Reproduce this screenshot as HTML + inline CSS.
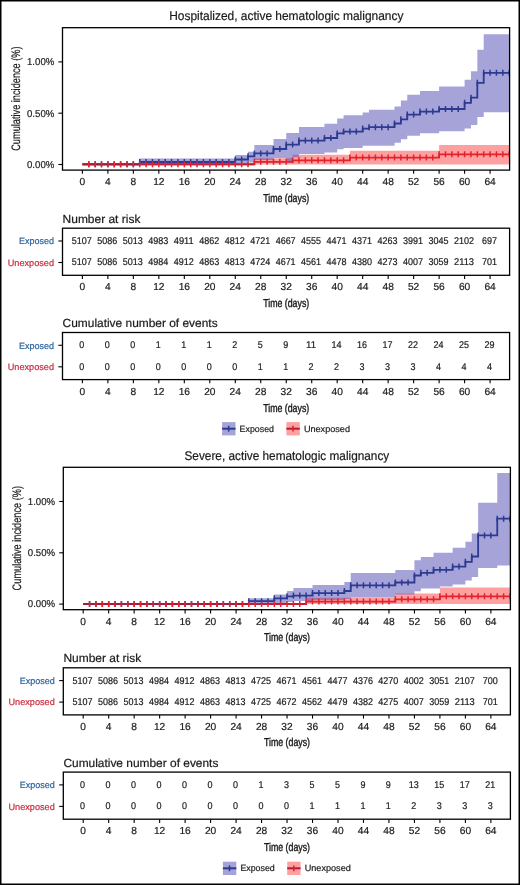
<!DOCTYPE html>
<html><head><meta charset="utf-8"><style>
html,body{margin:0;padding:0;background:#fff;}
body{width:520px;height:885px;overflow:hidden;}
svg{display:block;font-family:"Liberation Sans", sans-serif;will-change:transform;text-rendering:geometricPrecision;}
</style></head><body>
<svg width="520" height="885" viewBox="0 0 520 885">
<rect x="0" y="0" width="520" height="885" fill="#fff"/>
<g><text x="169.20" y="19.60" font-size="12.6" text-anchor="start" fill="#1a1a1a" stroke="#1a1a1a" stroke-width="0.2" textLength="234.2" lengthAdjust="spacingAndGlyphs">Hospitalized, active hematologic malignancy</text><text x="0" y="0" font-size="12.2" text-anchor="middle" fill="#1a1a1a" stroke="#1a1a1a" stroke-width="0.2" textLength="104.4" lengthAdjust="spacingAndGlyphs" transform="translate(20.3 98.6) rotate(-90)">Cumulative incidence (%)</text><path d="M254.39 158.30 L292.61 158.30 L292.61 154.70 L349.94 154.70 L349.94 150.80 L439.12 150.80 L439.12 145.10 L509.60 145.10 L509.60 164.60 L439.12 164.60 L439.12 164.60 L349.94 164.60 L349.94 164.60 L292.61 164.60 L292.61 164.60 L254.39 164.60 Z" fill="#ff2c2c" fill-opacity="0.45"/><path d="M139.73 158.60 L235.28 158.60 L235.28 155.00 L248.02 155.00 L248.02 151.80 L254.39 151.80 L254.39 145.10 L273.50 145.10 L273.50 139.00 L286.24 139.00 L286.24 133.00 L292.61 133.00 L292.61 133.00 L298.98 133.00 L298.98 126.90 L324.46 126.90 L324.46 123.70 L337.20 123.70 L337.20 118.40 L343.57 118.40 L343.57 115.30 L362.68 115.30 L362.68 112.50 L369.05 112.50 L369.05 109.80 L394.53 109.80 L394.53 106.40 L400.90 106.40 L400.90 100.40 L407.27 100.40 L407.27 94.70 L420.01 94.70 L420.01 91.00 L439.12 91.00 L439.12 86.40 L464.60 86.40 L464.60 79.70 L470.97 79.70 L470.97 71.30 L477.34 71.30 L477.34 49.80 L483.71 49.80 L483.71 34.20 L509.60 34.20 L509.60 112.20 L483.71 112.20 L483.71 117.10 L477.34 117.10 L477.34 125.10 L470.97 125.10 L470.97 128.60 L464.60 128.60 L464.60 131.30 L439.12 131.30 L439.12 133.30 L420.01 133.30 L420.01 135.70 L407.27 135.70 L407.27 139.30 L400.90 139.30 L400.90 142.80 L394.53 142.80 L394.53 145.80 L369.05 145.80 L369.05 145.80 L362.68 145.80 L362.68 147.90 L343.57 147.90 L343.57 149.20 L337.20 149.20 L337.20 152.60 L324.46 152.60 L324.46 153.90 L298.98 153.90 L298.98 157.30 L292.61 157.30 L292.61 161.50 L286.24 161.50 L286.24 158.00 L273.50 158.00 L273.50 160.00 L254.39 160.00 L254.39 162.50 L248.02 162.50 L248.02 163.50 L235.28 163.50 L235.28 164.00 L139.73 164.00 Z" fill="#4d47b1" fill-opacity="0.5"/><path d="M82.40 164.30 H139.73 V162.00 H235.28 V159.50 H248.02 V156.30 H254.39 V153.40 H273.50 V149.00 H286.24 V144.60 H298.98 V140.60 H324.46 V138.00 H337.20 V133.40 H343.57 V131.60 H362.68 V128.60 H369.05 V127.20 H394.53 V123.50 H400.90 V119.30 H407.27 V114.60 H420.01 V111.60 H439.12 V109.00 H464.60 V102.80 H470.97 V97.70 H477.34 V82.80 H483.71 V72.80 H509.60" stroke="#2c3a92" stroke-width="1.8" fill="none"/><path d="M88.77 161.30V167.30M95.14 161.30V167.30M101.51 161.30V167.30M107.88 161.30V167.30M114.25 161.30V167.30M120.62 161.30V167.30M126.99 161.30V167.30M133.36 161.30V167.30M139.73 159.00V165.00M146.10 159.00V165.00M152.47 159.00V165.00M158.84 159.00V165.00M165.21 159.00V165.00M171.58 159.00V165.00M177.95 159.00V165.00M184.32 159.00V165.00M190.69 159.00V165.00M197.06 159.00V165.00M203.43 159.00V165.00M209.80 159.00V165.00M216.17 159.00V165.00M222.54 159.00V165.00M228.91 159.00V165.00M235.28 156.50V162.50M241.65 156.50V162.50M248.02 153.30V159.30M254.39 150.40V156.40M260.76 150.40V156.40M267.13 150.40V156.40M273.50 146.00V152.00M279.87 146.00V152.00M286.24 141.60V147.60M292.61 141.60V147.60M298.98 137.60V143.60M305.35 137.60V143.60M311.72 137.60V143.60M318.09 137.60V143.60M324.46 135.00V141.00M330.83 135.00V141.00M337.20 130.40V136.40M343.57 128.60V134.60M349.94 128.60V134.60M356.31 128.60V134.60M362.68 125.60V131.60M369.05 124.20V130.20M375.42 124.20V130.20M381.79 124.20V130.20M388.16 124.20V130.20M394.53 120.50V126.50M400.90 116.30V122.30M407.27 111.60V117.60M413.64 111.60V117.60M420.01 108.60V114.60M426.38 108.60V114.60M432.75 108.60V114.60M439.12 106.00V112.00M445.49 106.00V112.00M451.86 106.00V112.00M458.23 106.00V112.00M464.60 99.80V105.80M470.97 94.70V100.70M477.34 79.80V85.80M483.71 69.80V75.80M490.08 69.80V75.80M496.45 69.80V75.80M502.82 69.80V75.80M509.19 69.80V75.80" stroke="#2c3a92" stroke-width="1.5" fill="none"/><path d="M82.40 164.30 H254.39 V161.80 H292.61 V160.30 H349.94 V157.60 H439.12 V154.30 H509.60" stroke="#e3222c" stroke-width="1.8" fill="none"/><path d="M82.40 164.30H139.73" stroke="#9c1f3c" stroke-width="1.9" fill="none"/><path d="M139.73 164.30H254.39" stroke="#c01f3a" stroke-width="1.9" fill="none"/><path d="M88.77 161.30V167.30M95.14 161.30V167.30M101.51 161.30V167.30M107.88 161.30V167.30M114.25 161.30V167.30M120.62 161.30V167.30M126.99 161.30V167.30M133.36 161.30V167.30M139.73 161.30V167.30M146.10 161.30V167.30M152.47 161.30V167.30M158.84 161.30V167.30M165.21 161.30V167.30M171.58 161.30V167.30M177.95 161.30V167.30M184.32 161.30V167.30M190.69 161.30V167.30M197.06 161.30V167.30M203.43 161.30V167.30M209.80 161.30V167.30M216.17 161.30V167.30M222.54 161.30V167.30M228.91 161.30V167.30M235.28 161.30V167.30M241.65 161.30V167.30M248.02 161.30V167.30M254.39 158.80V164.80M260.76 158.80V164.80M267.13 158.80V164.80M273.50 158.80V164.80M279.87 158.80V164.80M286.24 158.80V164.80M292.61 157.30V163.30M298.98 157.30V163.30M305.35 157.30V163.30M311.72 157.30V163.30M318.09 157.30V163.30M324.46 157.30V163.30M330.83 157.30V163.30M337.20 157.30V163.30M343.57 157.30V163.30M349.94 154.60V160.60M356.31 154.60V160.60M362.68 154.60V160.60M369.05 154.60V160.60M375.42 154.60V160.60M381.79 154.60V160.60M388.16 154.60V160.60M394.53 154.60V160.60M400.90 154.60V160.60M407.27 154.60V160.60M413.64 154.60V160.60M420.01 154.60V160.60M426.38 154.60V160.60M432.75 154.60V160.60M439.12 151.30V157.30M445.49 151.30V157.30M451.86 151.30V157.30M458.23 151.30V157.30M464.60 151.30V157.30M470.97 151.30V157.30M477.34 151.30V157.30M483.71 151.30V157.30M490.08 151.30V157.30M496.45 151.30V157.30M502.82 151.30V157.30M509.19 151.30V157.30" stroke="#e3222c" stroke-width="1.5" fill="none"/><rect x="62.5" y="27.7" width="447.10" height="142.40" fill="none" stroke="#000" stroke-width="1.3"/><path d="M58.4 61.90H62.5" stroke="#000" stroke-width="1.1"/><text x="54.30" y="65.20" font-size="10.0" text-anchor="end" fill="#222" stroke="#222" stroke-width="0.2" textLength="27.3" lengthAdjust="spacingAndGlyphs">1.00%</text><path d="M58.4 113.20H62.5" stroke="#000" stroke-width="1.1"/><text x="54.30" y="116.50" font-size="10.0" text-anchor="end" fill="#222" stroke="#222" stroke-width="0.2" textLength="27.3" lengthAdjust="spacingAndGlyphs">0.50%</text><path d="M58.4 164.50H62.5" stroke="#000" stroke-width="1.1"/><text x="54.30" y="167.80" font-size="10.0" text-anchor="end" fill="#222" stroke="#222" stroke-width="0.2" textLength="27.3" lengthAdjust="spacingAndGlyphs">0.00%</text><path d="M82.40 170.10V173.80" stroke="#000" stroke-width="1.1"/><text x="82.40" y="185.20" font-size="10.2" text-anchor="middle" fill="#1a1a1a" stroke="#1a1a1a" stroke-width="0.2">0</text><path d="M107.88 170.10V173.80" stroke="#000" stroke-width="1.1"/><text x="107.88" y="185.20" font-size="10.2" text-anchor="middle" fill="#1a1a1a" stroke="#1a1a1a" stroke-width="0.2">4</text><path d="M133.36 170.10V173.80" stroke="#000" stroke-width="1.1"/><text x="133.36" y="185.20" font-size="10.2" text-anchor="middle" fill="#1a1a1a" stroke="#1a1a1a" stroke-width="0.2">8</text><path d="M158.84 170.10V173.80" stroke="#000" stroke-width="1.1"/><text x="158.84" y="185.20" font-size="10.2" text-anchor="middle" fill="#1a1a1a" stroke="#1a1a1a" stroke-width="0.2">12</text><path d="M184.32 170.10V173.80" stroke="#000" stroke-width="1.1"/><text x="184.32" y="185.20" font-size="10.2" text-anchor="middle" fill="#1a1a1a" stroke="#1a1a1a" stroke-width="0.2">16</text><path d="M209.80 170.10V173.80" stroke="#000" stroke-width="1.1"/><text x="209.80" y="185.20" font-size="10.2" text-anchor="middle" fill="#1a1a1a" stroke="#1a1a1a" stroke-width="0.2">20</text><path d="M235.28 170.10V173.80" stroke="#000" stroke-width="1.1"/><text x="235.28" y="185.20" font-size="10.2" text-anchor="middle" fill="#1a1a1a" stroke="#1a1a1a" stroke-width="0.2">24</text><path d="M260.76 170.10V173.80" stroke="#000" stroke-width="1.1"/><text x="260.76" y="185.20" font-size="10.2" text-anchor="middle" fill="#1a1a1a" stroke="#1a1a1a" stroke-width="0.2">28</text><path d="M286.24 170.10V173.80" stroke="#000" stroke-width="1.1"/><text x="286.24" y="185.20" font-size="10.2" text-anchor="middle" fill="#1a1a1a" stroke="#1a1a1a" stroke-width="0.2">32</text><path d="M311.72 170.10V173.80" stroke="#000" stroke-width="1.1"/><text x="311.72" y="185.20" font-size="10.2" text-anchor="middle" fill="#1a1a1a" stroke="#1a1a1a" stroke-width="0.2">36</text><path d="M337.20 170.10V173.80" stroke="#000" stroke-width="1.1"/><text x="337.20" y="185.20" font-size="10.2" text-anchor="middle" fill="#1a1a1a" stroke="#1a1a1a" stroke-width="0.2">40</text><path d="M362.68 170.10V173.80" stroke="#000" stroke-width="1.1"/><text x="362.68" y="185.20" font-size="10.2" text-anchor="middle" fill="#1a1a1a" stroke="#1a1a1a" stroke-width="0.2">44</text><path d="M388.16 170.10V173.80" stroke="#000" stroke-width="1.1"/><text x="388.16" y="185.20" font-size="10.2" text-anchor="middle" fill="#1a1a1a" stroke="#1a1a1a" stroke-width="0.2">48</text><path d="M413.64 170.10V173.80" stroke="#000" stroke-width="1.1"/><text x="413.64" y="185.20" font-size="10.2" text-anchor="middle" fill="#1a1a1a" stroke="#1a1a1a" stroke-width="0.2">52</text><path d="M439.12 170.10V173.80" stroke="#000" stroke-width="1.1"/><text x="439.12" y="185.20" font-size="10.2" text-anchor="middle" fill="#1a1a1a" stroke="#1a1a1a" stroke-width="0.2">56</text><path d="M464.60 170.10V173.80" stroke="#000" stroke-width="1.1"/><text x="464.60" y="185.20" font-size="10.2" text-anchor="middle" fill="#1a1a1a" stroke="#1a1a1a" stroke-width="0.2">60</text><path d="M490.08 170.10V173.80" stroke="#000" stroke-width="1.1"/><text x="490.08" y="185.20" font-size="10.2" text-anchor="middle" fill="#1a1a1a" stroke="#1a1a1a" stroke-width="0.2">64</text><text x="286.20" y="201.50" font-size="11.5" text-anchor="middle" fill="#1a1a1a" stroke="#1a1a1a" stroke-width="0.4" textLength="46.1" lengthAdjust="spacingAndGlyphs">Time (days)</text><text x="62.60" y="222.70" font-size="11.7" text-anchor="start" fill="#1a1a1a" stroke="#1a1a1a" stroke-width="0.2" textLength="77.8" lengthAdjust="spacingAndGlyphs">Number at risk</text><rect x="62.5" y="228.2" width="447.10" height="47.10" fill="none" stroke="#000" stroke-width="1.3"/><path d="M58.4 241.00H62.5" stroke="#000" stroke-width="1.1"/><text x="54.00" y="244.20" font-size="9.2" text-anchor="end" fill="#2a629a" stroke="#2a629a" stroke-width="0.2" textLength="35" lengthAdjust="spacingAndGlyphs">Exposed</text><path d="M58.4 262.50H62.5" stroke="#000" stroke-width="1.1"/><text x="54.00" y="265.70" font-size="9.2" text-anchor="end" fill="#ca2a3c" stroke="#ca2a3c" stroke-width="0.2" textLength="46.3" lengthAdjust="spacingAndGlyphs">Unexposed</text><text x="81.80" y="243.95" font-size="9.8" text-anchor="middle" fill="#1a1a1a" stroke="#1a1a1a" stroke-width="0.2" textLength="20.0" lengthAdjust="spacingAndGlyphs">5107</text><text x="107.28" y="243.95" font-size="9.8" text-anchor="middle" fill="#1a1a1a" stroke="#1a1a1a" stroke-width="0.2" textLength="20.0" lengthAdjust="spacingAndGlyphs">5086</text><text x="132.76" y="243.95" font-size="9.8" text-anchor="middle" fill="#1a1a1a" stroke="#1a1a1a" stroke-width="0.2" textLength="20.0" lengthAdjust="spacingAndGlyphs">5013</text><text x="158.24" y="243.95" font-size="9.8" text-anchor="middle" fill="#1a1a1a" stroke="#1a1a1a" stroke-width="0.2" textLength="20.0" lengthAdjust="spacingAndGlyphs">4983</text><text x="183.72" y="243.95" font-size="9.8" text-anchor="middle" fill="#1a1a1a" stroke="#1a1a1a" stroke-width="0.2" textLength="20.0" lengthAdjust="spacingAndGlyphs">4911</text><text x="209.20" y="243.95" font-size="9.8" text-anchor="middle" fill="#1a1a1a" stroke="#1a1a1a" stroke-width="0.2" textLength="20.0" lengthAdjust="spacingAndGlyphs">4862</text><text x="234.68" y="243.95" font-size="9.8" text-anchor="middle" fill="#1a1a1a" stroke="#1a1a1a" stroke-width="0.2" textLength="20.0" lengthAdjust="spacingAndGlyphs">4812</text><text x="260.16" y="243.95" font-size="9.8" text-anchor="middle" fill="#1a1a1a" stroke="#1a1a1a" stroke-width="0.2" textLength="20.0" lengthAdjust="spacingAndGlyphs">4721</text><text x="285.64" y="243.95" font-size="9.8" text-anchor="middle" fill="#1a1a1a" stroke="#1a1a1a" stroke-width="0.2" textLength="20.0" lengthAdjust="spacingAndGlyphs">4667</text><text x="311.12" y="243.95" font-size="9.8" text-anchor="middle" fill="#1a1a1a" stroke="#1a1a1a" stroke-width="0.2" textLength="20.0" lengthAdjust="spacingAndGlyphs">4555</text><text x="336.60" y="243.95" font-size="9.8" text-anchor="middle" fill="#1a1a1a" stroke="#1a1a1a" stroke-width="0.2" textLength="20.0" lengthAdjust="spacingAndGlyphs">4471</text><text x="362.08" y="243.95" font-size="9.8" text-anchor="middle" fill="#1a1a1a" stroke="#1a1a1a" stroke-width="0.2" textLength="20.0" lengthAdjust="spacingAndGlyphs">4371</text><text x="387.56" y="243.95" font-size="9.8" text-anchor="middle" fill="#1a1a1a" stroke="#1a1a1a" stroke-width="0.2" textLength="20.0" lengthAdjust="spacingAndGlyphs">4263</text><text x="413.04" y="243.95" font-size="9.8" text-anchor="middle" fill="#1a1a1a" stroke="#1a1a1a" stroke-width="0.2" textLength="20.0" lengthAdjust="spacingAndGlyphs">3991</text><text x="438.52" y="243.95" font-size="9.8" text-anchor="middle" fill="#1a1a1a" stroke="#1a1a1a" stroke-width="0.2" textLength="20.0" lengthAdjust="spacingAndGlyphs">3045</text><text x="464.00" y="243.95" font-size="9.8" text-anchor="middle" fill="#1a1a1a" stroke="#1a1a1a" stroke-width="0.2" textLength="20.0" lengthAdjust="spacingAndGlyphs">2102</text><text x="489.48" y="243.95" font-size="9.8" text-anchor="middle" fill="#1a1a1a" stroke="#1a1a1a" stroke-width="0.2" textLength="15.0" lengthAdjust="spacingAndGlyphs">697</text><text x="81.80" y="265.45" font-size="9.8" text-anchor="middle" fill="#1a1a1a" stroke="#1a1a1a" stroke-width="0.2" textLength="20.0" lengthAdjust="spacingAndGlyphs">5107</text><text x="107.28" y="265.45" font-size="9.8" text-anchor="middle" fill="#1a1a1a" stroke="#1a1a1a" stroke-width="0.2" textLength="20.0" lengthAdjust="spacingAndGlyphs">5086</text><text x="132.76" y="265.45" font-size="9.8" text-anchor="middle" fill="#1a1a1a" stroke="#1a1a1a" stroke-width="0.2" textLength="20.0" lengthAdjust="spacingAndGlyphs">5013</text><text x="158.24" y="265.45" font-size="9.8" text-anchor="middle" fill="#1a1a1a" stroke="#1a1a1a" stroke-width="0.2" textLength="20.0" lengthAdjust="spacingAndGlyphs">4984</text><text x="183.72" y="265.45" font-size="9.8" text-anchor="middle" fill="#1a1a1a" stroke="#1a1a1a" stroke-width="0.2" textLength="20.0" lengthAdjust="spacingAndGlyphs">4912</text><text x="209.20" y="265.45" font-size="9.8" text-anchor="middle" fill="#1a1a1a" stroke="#1a1a1a" stroke-width="0.2" textLength="20.0" lengthAdjust="spacingAndGlyphs">4863</text><text x="234.68" y="265.45" font-size="9.8" text-anchor="middle" fill="#1a1a1a" stroke="#1a1a1a" stroke-width="0.2" textLength="20.0" lengthAdjust="spacingAndGlyphs">4813</text><text x="260.16" y="265.45" font-size="9.8" text-anchor="middle" fill="#1a1a1a" stroke="#1a1a1a" stroke-width="0.2" textLength="20.0" lengthAdjust="spacingAndGlyphs">4724</text><text x="285.64" y="265.45" font-size="9.8" text-anchor="middle" fill="#1a1a1a" stroke="#1a1a1a" stroke-width="0.2" textLength="20.0" lengthAdjust="spacingAndGlyphs">4671</text><text x="311.12" y="265.45" font-size="9.8" text-anchor="middle" fill="#1a1a1a" stroke="#1a1a1a" stroke-width="0.2" textLength="20.0" lengthAdjust="spacingAndGlyphs">4561</text><text x="336.60" y="265.45" font-size="9.8" text-anchor="middle" fill="#1a1a1a" stroke="#1a1a1a" stroke-width="0.2" textLength="20.0" lengthAdjust="spacingAndGlyphs">4478</text><text x="362.08" y="265.45" font-size="9.8" text-anchor="middle" fill="#1a1a1a" stroke="#1a1a1a" stroke-width="0.2" textLength="20.0" lengthAdjust="spacingAndGlyphs">4380</text><text x="387.56" y="265.45" font-size="9.8" text-anchor="middle" fill="#1a1a1a" stroke="#1a1a1a" stroke-width="0.2" textLength="20.0" lengthAdjust="spacingAndGlyphs">4273</text><text x="413.04" y="265.45" font-size="9.8" text-anchor="middle" fill="#1a1a1a" stroke="#1a1a1a" stroke-width="0.2" textLength="20.0" lengthAdjust="spacingAndGlyphs">4007</text><text x="438.52" y="265.45" font-size="9.8" text-anchor="middle" fill="#1a1a1a" stroke="#1a1a1a" stroke-width="0.2" textLength="20.0" lengthAdjust="spacingAndGlyphs">3059</text><text x="464.00" y="265.45" font-size="9.8" text-anchor="middle" fill="#1a1a1a" stroke="#1a1a1a" stroke-width="0.2" textLength="20.0" lengthAdjust="spacingAndGlyphs">2113</text><text x="489.48" y="265.45" font-size="9.8" text-anchor="middle" fill="#1a1a1a" stroke="#1a1a1a" stroke-width="0.2" textLength="15.0" lengthAdjust="spacingAndGlyphs">701</text><path d="M82.40 275.30V279.00" stroke="#000" stroke-width="1.1"/><text x="82.40" y="290.45" font-size="10.2" text-anchor="middle" fill="#1a1a1a" stroke="#1a1a1a" stroke-width="0.2">0</text><path d="M107.88 275.30V279.00" stroke="#000" stroke-width="1.1"/><text x="107.88" y="290.45" font-size="10.2" text-anchor="middle" fill="#1a1a1a" stroke="#1a1a1a" stroke-width="0.2">4</text><path d="M133.36 275.30V279.00" stroke="#000" stroke-width="1.1"/><text x="133.36" y="290.45" font-size="10.2" text-anchor="middle" fill="#1a1a1a" stroke="#1a1a1a" stroke-width="0.2">8</text><path d="M158.84 275.30V279.00" stroke="#000" stroke-width="1.1"/><text x="158.84" y="290.45" font-size="10.2" text-anchor="middle" fill="#1a1a1a" stroke="#1a1a1a" stroke-width="0.2">12</text><path d="M184.32 275.30V279.00" stroke="#000" stroke-width="1.1"/><text x="184.32" y="290.45" font-size="10.2" text-anchor="middle" fill="#1a1a1a" stroke="#1a1a1a" stroke-width="0.2">16</text><path d="M209.80 275.30V279.00" stroke="#000" stroke-width="1.1"/><text x="209.80" y="290.45" font-size="10.2" text-anchor="middle" fill="#1a1a1a" stroke="#1a1a1a" stroke-width="0.2">20</text><path d="M235.28 275.30V279.00" stroke="#000" stroke-width="1.1"/><text x="235.28" y="290.45" font-size="10.2" text-anchor="middle" fill="#1a1a1a" stroke="#1a1a1a" stroke-width="0.2">24</text><path d="M260.76 275.30V279.00" stroke="#000" stroke-width="1.1"/><text x="260.76" y="290.45" font-size="10.2" text-anchor="middle" fill="#1a1a1a" stroke="#1a1a1a" stroke-width="0.2">28</text><path d="M286.24 275.30V279.00" stroke="#000" stroke-width="1.1"/><text x="286.24" y="290.45" font-size="10.2" text-anchor="middle" fill="#1a1a1a" stroke="#1a1a1a" stroke-width="0.2">32</text><path d="M311.72 275.30V279.00" stroke="#000" stroke-width="1.1"/><text x="311.72" y="290.45" font-size="10.2" text-anchor="middle" fill="#1a1a1a" stroke="#1a1a1a" stroke-width="0.2">36</text><path d="M337.20 275.30V279.00" stroke="#000" stroke-width="1.1"/><text x="337.20" y="290.45" font-size="10.2" text-anchor="middle" fill="#1a1a1a" stroke="#1a1a1a" stroke-width="0.2">40</text><path d="M362.68 275.30V279.00" stroke="#000" stroke-width="1.1"/><text x="362.68" y="290.45" font-size="10.2" text-anchor="middle" fill="#1a1a1a" stroke="#1a1a1a" stroke-width="0.2">44</text><path d="M388.16 275.30V279.00" stroke="#000" stroke-width="1.1"/><text x="388.16" y="290.45" font-size="10.2" text-anchor="middle" fill="#1a1a1a" stroke="#1a1a1a" stroke-width="0.2">48</text><path d="M413.64 275.30V279.00" stroke="#000" stroke-width="1.1"/><text x="413.64" y="290.45" font-size="10.2" text-anchor="middle" fill="#1a1a1a" stroke="#1a1a1a" stroke-width="0.2">52</text><path d="M439.12 275.30V279.00" stroke="#000" stroke-width="1.1"/><text x="439.12" y="290.45" font-size="10.2" text-anchor="middle" fill="#1a1a1a" stroke="#1a1a1a" stroke-width="0.2">56</text><path d="M464.60 275.30V279.00" stroke="#000" stroke-width="1.1"/><text x="464.60" y="290.45" font-size="10.2" text-anchor="middle" fill="#1a1a1a" stroke="#1a1a1a" stroke-width="0.2">60</text><path d="M490.08 275.30V279.00" stroke="#000" stroke-width="1.1"/><text x="490.08" y="290.45" font-size="10.2" text-anchor="middle" fill="#1a1a1a" stroke="#1a1a1a" stroke-width="0.2">64</text><text x="286.20" y="306.90" font-size="11.5" text-anchor="middle" fill="#1a1a1a" stroke="#1a1a1a" stroke-width="0.4" textLength="46.1" lengthAdjust="spacingAndGlyphs">Time (days)</text><text x="62.60" y="327.30" font-size="11.7" text-anchor="start" fill="#1a1a1a" stroke="#1a1a1a" stroke-width="0.2" textLength="155" lengthAdjust="spacingAndGlyphs">Cumulative number of events</text><rect x="62.5" y="332.5" width="447.10" height="47.10" fill="none" stroke="#000" stroke-width="1.3"/><path d="M58.4 345.30H62.5" stroke="#000" stroke-width="1.1"/><text x="54.00" y="348.50" font-size="9.2" text-anchor="end" fill="#2a629a" stroke="#2a629a" stroke-width="0.2" textLength="35" lengthAdjust="spacingAndGlyphs">Exposed</text><path d="M58.4 366.80H62.5" stroke="#000" stroke-width="1.1"/><text x="54.00" y="370.00" font-size="9.2" text-anchor="end" fill="#ca2a3c" stroke="#ca2a3c" stroke-width="0.2" textLength="46.3" lengthAdjust="spacingAndGlyphs">Unexposed</text><text x="81.80" y="348.25" font-size="9.8" text-anchor="middle" fill="#1a1a1a" stroke="#1a1a1a" stroke-width="0.2" textLength="5.0" lengthAdjust="spacingAndGlyphs">0</text><text x="107.28" y="348.25" font-size="9.8" text-anchor="middle" fill="#1a1a1a" stroke="#1a1a1a" stroke-width="0.2" textLength="5.0" lengthAdjust="spacingAndGlyphs">0</text><text x="132.76" y="348.25" font-size="9.8" text-anchor="middle" fill="#1a1a1a" stroke="#1a1a1a" stroke-width="0.2" textLength="5.0" lengthAdjust="spacingAndGlyphs">0</text><text x="158.24" y="348.25" font-size="9.8" text-anchor="middle" fill="#1a1a1a" stroke="#1a1a1a" stroke-width="0.2" textLength="5.0" lengthAdjust="spacingAndGlyphs">1</text><text x="183.72" y="348.25" font-size="9.8" text-anchor="middle" fill="#1a1a1a" stroke="#1a1a1a" stroke-width="0.2" textLength="5.0" lengthAdjust="spacingAndGlyphs">1</text><text x="209.20" y="348.25" font-size="9.8" text-anchor="middle" fill="#1a1a1a" stroke="#1a1a1a" stroke-width="0.2" textLength="5.0" lengthAdjust="spacingAndGlyphs">1</text><text x="234.68" y="348.25" font-size="9.8" text-anchor="middle" fill="#1a1a1a" stroke="#1a1a1a" stroke-width="0.2" textLength="5.0" lengthAdjust="spacingAndGlyphs">2</text><text x="260.16" y="348.25" font-size="9.8" text-anchor="middle" fill="#1a1a1a" stroke="#1a1a1a" stroke-width="0.2" textLength="5.0" lengthAdjust="spacingAndGlyphs">5</text><text x="285.64" y="348.25" font-size="9.8" text-anchor="middle" fill="#1a1a1a" stroke="#1a1a1a" stroke-width="0.2" textLength="5.0" lengthAdjust="spacingAndGlyphs">9</text><text x="311.12" y="348.25" font-size="9.8" text-anchor="middle" fill="#1a1a1a" stroke="#1a1a1a" stroke-width="0.2" textLength="10.0" lengthAdjust="spacingAndGlyphs">11</text><text x="336.60" y="348.25" font-size="9.8" text-anchor="middle" fill="#1a1a1a" stroke="#1a1a1a" stroke-width="0.2" textLength="10.0" lengthAdjust="spacingAndGlyphs">14</text><text x="362.08" y="348.25" font-size="9.8" text-anchor="middle" fill="#1a1a1a" stroke="#1a1a1a" stroke-width="0.2" textLength="10.0" lengthAdjust="spacingAndGlyphs">16</text><text x="387.56" y="348.25" font-size="9.8" text-anchor="middle" fill="#1a1a1a" stroke="#1a1a1a" stroke-width="0.2" textLength="10.0" lengthAdjust="spacingAndGlyphs">17</text><text x="413.04" y="348.25" font-size="9.8" text-anchor="middle" fill="#1a1a1a" stroke="#1a1a1a" stroke-width="0.2" textLength="10.0" lengthAdjust="spacingAndGlyphs">22</text><text x="438.52" y="348.25" font-size="9.8" text-anchor="middle" fill="#1a1a1a" stroke="#1a1a1a" stroke-width="0.2" textLength="10.0" lengthAdjust="spacingAndGlyphs">24</text><text x="464.00" y="348.25" font-size="9.8" text-anchor="middle" fill="#1a1a1a" stroke="#1a1a1a" stroke-width="0.2" textLength="10.0" lengthAdjust="spacingAndGlyphs">25</text><text x="489.48" y="348.25" font-size="9.8" text-anchor="middle" fill="#1a1a1a" stroke="#1a1a1a" stroke-width="0.2" textLength="10.0" lengthAdjust="spacingAndGlyphs">29</text><text x="81.80" y="369.75" font-size="9.8" text-anchor="middle" fill="#1a1a1a" stroke="#1a1a1a" stroke-width="0.2" textLength="5.0" lengthAdjust="spacingAndGlyphs">0</text><text x="107.28" y="369.75" font-size="9.8" text-anchor="middle" fill="#1a1a1a" stroke="#1a1a1a" stroke-width="0.2" textLength="5.0" lengthAdjust="spacingAndGlyphs">0</text><text x="132.76" y="369.75" font-size="9.8" text-anchor="middle" fill="#1a1a1a" stroke="#1a1a1a" stroke-width="0.2" textLength="5.0" lengthAdjust="spacingAndGlyphs">0</text><text x="158.24" y="369.75" font-size="9.8" text-anchor="middle" fill="#1a1a1a" stroke="#1a1a1a" stroke-width="0.2" textLength="5.0" lengthAdjust="spacingAndGlyphs">0</text><text x="183.72" y="369.75" font-size="9.8" text-anchor="middle" fill="#1a1a1a" stroke="#1a1a1a" stroke-width="0.2" textLength="5.0" lengthAdjust="spacingAndGlyphs">0</text><text x="209.20" y="369.75" font-size="9.8" text-anchor="middle" fill="#1a1a1a" stroke="#1a1a1a" stroke-width="0.2" textLength="5.0" lengthAdjust="spacingAndGlyphs">0</text><text x="234.68" y="369.75" font-size="9.8" text-anchor="middle" fill="#1a1a1a" stroke="#1a1a1a" stroke-width="0.2" textLength="5.0" lengthAdjust="spacingAndGlyphs">0</text><text x="260.16" y="369.75" font-size="9.8" text-anchor="middle" fill="#1a1a1a" stroke="#1a1a1a" stroke-width="0.2" textLength="5.0" lengthAdjust="spacingAndGlyphs">1</text><text x="285.64" y="369.75" font-size="9.8" text-anchor="middle" fill="#1a1a1a" stroke="#1a1a1a" stroke-width="0.2" textLength="5.0" lengthAdjust="spacingAndGlyphs">1</text><text x="311.12" y="369.75" font-size="9.8" text-anchor="middle" fill="#1a1a1a" stroke="#1a1a1a" stroke-width="0.2" textLength="5.0" lengthAdjust="spacingAndGlyphs">2</text><text x="336.60" y="369.75" font-size="9.8" text-anchor="middle" fill="#1a1a1a" stroke="#1a1a1a" stroke-width="0.2" textLength="5.0" lengthAdjust="spacingAndGlyphs">2</text><text x="362.08" y="369.75" font-size="9.8" text-anchor="middle" fill="#1a1a1a" stroke="#1a1a1a" stroke-width="0.2" textLength="5.0" lengthAdjust="spacingAndGlyphs">3</text><text x="387.56" y="369.75" font-size="9.8" text-anchor="middle" fill="#1a1a1a" stroke="#1a1a1a" stroke-width="0.2" textLength="5.0" lengthAdjust="spacingAndGlyphs">3</text><text x="413.04" y="369.75" font-size="9.8" text-anchor="middle" fill="#1a1a1a" stroke="#1a1a1a" stroke-width="0.2" textLength="5.0" lengthAdjust="spacingAndGlyphs">3</text><text x="438.52" y="369.75" font-size="9.8" text-anchor="middle" fill="#1a1a1a" stroke="#1a1a1a" stroke-width="0.2" textLength="5.0" lengthAdjust="spacingAndGlyphs">4</text><text x="464.00" y="369.75" font-size="9.8" text-anchor="middle" fill="#1a1a1a" stroke="#1a1a1a" stroke-width="0.2" textLength="5.0" lengthAdjust="spacingAndGlyphs">4</text><text x="489.48" y="369.75" font-size="9.8" text-anchor="middle" fill="#1a1a1a" stroke="#1a1a1a" stroke-width="0.2" textLength="5.0" lengthAdjust="spacingAndGlyphs">4</text><path d="M82.40 379.60V383.30" stroke="#000" stroke-width="1.1"/><text x="82.40" y="394.75" font-size="10.2" text-anchor="middle" fill="#1a1a1a" stroke="#1a1a1a" stroke-width="0.2">0</text><path d="M107.88 379.60V383.30" stroke="#000" stroke-width="1.1"/><text x="107.88" y="394.75" font-size="10.2" text-anchor="middle" fill="#1a1a1a" stroke="#1a1a1a" stroke-width="0.2">4</text><path d="M133.36 379.60V383.30" stroke="#000" stroke-width="1.1"/><text x="133.36" y="394.75" font-size="10.2" text-anchor="middle" fill="#1a1a1a" stroke="#1a1a1a" stroke-width="0.2">8</text><path d="M158.84 379.60V383.30" stroke="#000" stroke-width="1.1"/><text x="158.84" y="394.75" font-size="10.2" text-anchor="middle" fill="#1a1a1a" stroke="#1a1a1a" stroke-width="0.2">12</text><path d="M184.32 379.60V383.30" stroke="#000" stroke-width="1.1"/><text x="184.32" y="394.75" font-size="10.2" text-anchor="middle" fill="#1a1a1a" stroke="#1a1a1a" stroke-width="0.2">16</text><path d="M209.80 379.60V383.30" stroke="#000" stroke-width="1.1"/><text x="209.80" y="394.75" font-size="10.2" text-anchor="middle" fill="#1a1a1a" stroke="#1a1a1a" stroke-width="0.2">20</text><path d="M235.28 379.60V383.30" stroke="#000" stroke-width="1.1"/><text x="235.28" y="394.75" font-size="10.2" text-anchor="middle" fill="#1a1a1a" stroke="#1a1a1a" stroke-width="0.2">24</text><path d="M260.76 379.60V383.30" stroke="#000" stroke-width="1.1"/><text x="260.76" y="394.75" font-size="10.2" text-anchor="middle" fill="#1a1a1a" stroke="#1a1a1a" stroke-width="0.2">28</text><path d="M286.24 379.60V383.30" stroke="#000" stroke-width="1.1"/><text x="286.24" y="394.75" font-size="10.2" text-anchor="middle" fill="#1a1a1a" stroke="#1a1a1a" stroke-width="0.2">32</text><path d="M311.72 379.60V383.30" stroke="#000" stroke-width="1.1"/><text x="311.72" y="394.75" font-size="10.2" text-anchor="middle" fill="#1a1a1a" stroke="#1a1a1a" stroke-width="0.2">36</text><path d="M337.20 379.60V383.30" stroke="#000" stroke-width="1.1"/><text x="337.20" y="394.75" font-size="10.2" text-anchor="middle" fill="#1a1a1a" stroke="#1a1a1a" stroke-width="0.2">40</text><path d="M362.68 379.60V383.30" stroke="#000" stroke-width="1.1"/><text x="362.68" y="394.75" font-size="10.2" text-anchor="middle" fill="#1a1a1a" stroke="#1a1a1a" stroke-width="0.2">44</text><path d="M388.16 379.60V383.30" stroke="#000" stroke-width="1.1"/><text x="388.16" y="394.75" font-size="10.2" text-anchor="middle" fill="#1a1a1a" stroke="#1a1a1a" stroke-width="0.2">48</text><path d="M413.64 379.60V383.30" stroke="#000" stroke-width="1.1"/><text x="413.64" y="394.75" font-size="10.2" text-anchor="middle" fill="#1a1a1a" stroke="#1a1a1a" stroke-width="0.2">52</text><path d="M439.12 379.60V383.30" stroke="#000" stroke-width="1.1"/><text x="439.12" y="394.75" font-size="10.2" text-anchor="middle" fill="#1a1a1a" stroke="#1a1a1a" stroke-width="0.2">56</text><path d="M464.60 379.60V383.30" stroke="#000" stroke-width="1.1"/><text x="464.60" y="394.75" font-size="10.2" text-anchor="middle" fill="#1a1a1a" stroke="#1a1a1a" stroke-width="0.2">60</text><path d="M490.08 379.60V383.30" stroke="#000" stroke-width="1.1"/><text x="490.08" y="394.75" font-size="10.2" text-anchor="middle" fill="#1a1a1a" stroke="#1a1a1a" stroke-width="0.2">64</text><text x="286.20" y="411.50" font-size="11.5" text-anchor="middle" fill="#1a1a1a" stroke="#1a1a1a" stroke-width="0.4" textLength="46.1" lengthAdjust="spacingAndGlyphs">Time (days)</text><rect x="222.1" y="422.1" width="13.4" height="13.3" fill="#4d47b1" fill-opacity="0.5"/><path d="M222.1 428.7H235.5" stroke="#2c3a92" stroke-width="2.0"/><path d="M228.7 425.8V431.6" stroke="#2c3a92" stroke-width="1.6"/><text x="239.60" y="431.60" font-size="9.0" text-anchor="start" fill="#1a1a1a" stroke="#1a1a1a" stroke-width="0.2" textLength="34.4" lengthAdjust="spacingAndGlyphs">Exposed</text><rect x="286.4" y="422.1" width="13.4" height="13.3" fill="#ff2c2c" fill-opacity="0.45"/><path d="M286.4 428.7H299.79999999999995" stroke="#b21d36" stroke-width="2.0"/><path d="M293.0 425.8V431.6" stroke="#e3222c" stroke-width="1.6"/><text x="303.90" y="431.60" font-size="9.0" text-anchor="start" fill="#1a1a1a" stroke="#1a1a1a" stroke-width="0.2" textLength="46.1" lengthAdjust="spacingAndGlyphs">Unexposed</text></g>
<g transform="translate(0.8 439.6)"><text x="183.70" y="20.00" font-size="12.6" text-anchor="start" fill="#1a1a1a" stroke="#1a1a1a" stroke-width="0.2" textLength="204.7" lengthAdjust="spacingAndGlyphs">Severe, active hematologic malignancy</text><text x="0" y="0" font-size="12.2" text-anchor="middle" fill="#1a1a1a" stroke="#1a1a1a" stroke-width="0.2" textLength="104.4" lengthAdjust="spacingAndGlyphs" transform="translate(20.3 98.6) rotate(-90)">Cumulative incidence (%)</text><path d="M305.35 158.20 L394.53 158.20 L394.53 153.80 L439.12 153.80 L439.12 147.90 L509.60 147.90 L509.60 164.30 L439.12 164.30 L439.12 164.30 L394.53 164.30 L394.53 164.30 L305.35 164.30 Z" fill="#ff2c2c" fill-opacity="0.45"/><path d="M248.02 158.70 L273.50 158.70 L273.50 154.90 L286.24 154.90 L286.24 151.50 L292.61 151.50 L292.61 148.40 L311.72 148.40 L311.72 145.40 L343.57 145.40 L343.57 142.40 L349.94 142.40 L349.94 133.50 L394.53 133.50 L394.53 130.50 L413.64 130.50 L413.64 120.70 L420.01 120.70 L420.01 117.50 L432.75 117.50 L432.75 113.10 L439.12 113.10 L439.12 113.10 L451.86 113.10 L451.86 108.10 L464.60 108.10 L464.60 102.10 L470.97 102.10 L470.97 94.00 L477.34 94.00 L477.34 63.20 L496.45 63.20 L496.45 33.50 L509.60 33.50 L509.60 125.80 L496.45 125.80 L496.45 128.40 L477.34 128.40 L477.34 137.40 L470.97 137.40 L470.97 140.80 L464.60 140.80 L464.60 144.90 L451.86 144.90 L451.86 147.00 L439.12 147.00 L439.12 148.80 L432.75 148.80 L432.75 148.80 L420.01 148.80 L420.01 151.60 L413.64 151.60 L413.64 155.00 L394.53 155.00 L394.53 157.90 L349.94 157.90 L349.94 159.40 L343.57 159.40 L343.57 160.40 L311.72 160.40 L311.72 161.40 L292.61 161.40 L292.61 162.40 L286.24 162.40 L286.24 163.40 L273.50 163.40 L273.50 164.20 L248.02 164.20 Z" fill="#4d47b1" fill-opacity="0.5"/><path d="M82.40 164.40 H248.02 V161.60 H273.50 V158.70 H286.24 V156.70 H292.61 V156.00 H311.72 V153.50 H343.57 V151.40 H349.94 V145.70 H394.53 V142.90 H413.64 V135.90 H420.01 V133.20 H432.75 V130.20 H451.86 V127.00 H464.60 V122.20 H470.97 V116.90 H477.34 V95.80 H496.45 V79.10 H509.60" stroke="#2c3a92" stroke-width="1.8" fill="none"/><path d="M88.77 161.40V167.40M95.14 161.40V167.40M101.51 161.40V167.40M107.88 161.40V167.40M114.25 161.40V167.40M120.62 161.40V167.40M126.99 161.40V167.40M133.36 161.40V167.40M139.73 161.40V167.40M146.10 161.40V167.40M152.47 161.40V167.40M158.84 161.40V167.40M165.21 161.40V167.40M171.58 161.40V167.40M177.95 161.40V167.40M184.32 161.40V167.40M190.69 161.40V167.40M197.06 161.40V167.40M203.43 161.40V167.40M209.80 161.40V167.40M216.17 161.40V167.40M222.54 161.40V167.40M228.91 161.40V167.40M235.28 161.40V167.40M241.65 161.40V167.40M248.02 158.60V164.60M254.39 158.60V164.60M260.76 158.60V164.60M267.13 158.60V164.60M273.50 155.70V161.70M279.87 155.70V161.70M286.24 153.70V159.70M292.61 153.00V159.00M298.98 153.00V159.00M305.35 153.00V159.00M311.72 150.50V156.50M318.09 150.50V156.50M324.46 150.50V156.50M330.83 150.50V156.50M337.20 150.50V156.50M343.57 148.40V154.40M349.94 142.70V148.70M356.31 142.70V148.70M362.68 142.70V148.70M369.05 142.70V148.70M375.42 142.70V148.70M381.79 142.70V148.70M388.16 142.70V148.70M394.53 139.90V145.90M400.90 139.90V145.90M407.27 139.90V145.90M413.64 132.90V138.90M420.01 130.20V136.20M426.38 130.20V136.20M432.75 127.20V133.20M439.12 127.20V133.20M445.49 127.20V133.20M451.86 124.00V130.00M458.23 124.00V130.00M464.60 119.20V125.20M470.97 113.90V119.90M477.34 92.80V98.80M483.71 92.80V98.80M490.08 92.80V98.80M496.45 76.10V82.10M502.82 76.10V82.10M509.19 76.10V82.10" stroke="#2c3a92" stroke-width="1.5" fill="none"/><path d="M82.40 164.40 H305.35 V162.00 H394.53 V159.70 H439.12 V156.70 H509.60" stroke="#e3222c" stroke-width="1.8" fill="none"/><path d="M82.40 164.40H248.02" stroke="#9c1f3c" stroke-width="1.9" fill="none"/><path d="M248.02 164.40H305.35" stroke="#c01f3a" stroke-width="1.9" fill="none"/><path d="M88.77 161.40V167.40M95.14 161.40V167.40M101.51 161.40V167.40M107.88 161.40V167.40M114.25 161.40V167.40M120.62 161.40V167.40M126.99 161.40V167.40M133.36 161.40V167.40M139.73 161.40V167.40M146.10 161.40V167.40M152.47 161.40V167.40M158.84 161.40V167.40M165.21 161.40V167.40M171.58 161.40V167.40M177.95 161.40V167.40M184.32 161.40V167.40M190.69 161.40V167.40M197.06 161.40V167.40M203.43 161.40V167.40M209.80 161.40V167.40M216.17 161.40V167.40M222.54 161.40V167.40M228.91 161.40V167.40M235.28 161.40V167.40M241.65 161.40V167.40M248.02 161.40V167.40M254.39 161.40V167.40M260.76 161.40V167.40M267.13 161.40V167.40M273.50 161.40V167.40M279.87 161.40V167.40M286.24 161.40V167.40M292.61 161.40V167.40M298.98 161.40V167.40M305.35 159.00V165.00M311.72 159.00V165.00M318.09 159.00V165.00M324.46 159.00V165.00M330.83 159.00V165.00M337.20 159.00V165.00M343.57 159.00V165.00M349.94 159.00V165.00M356.31 159.00V165.00M362.68 159.00V165.00M369.05 159.00V165.00M375.42 159.00V165.00M381.79 159.00V165.00M388.16 159.00V165.00M394.53 156.70V162.70M400.90 156.70V162.70M407.27 156.70V162.70M413.64 156.70V162.70M420.01 156.70V162.70M426.38 156.70V162.70M432.75 156.70V162.70M439.12 153.70V159.70M445.49 153.70V159.70M451.86 153.70V159.70M458.23 153.70V159.70M464.60 153.70V159.70M470.97 153.70V159.70M477.34 153.70V159.70M483.71 153.70V159.70M490.08 153.70V159.70M496.45 153.70V159.70M502.82 153.70V159.70M509.19 153.70V159.70" stroke="#e3222c" stroke-width="1.5" fill="none"/><rect x="62.5" y="27.7" width="447.10" height="142.40" fill="none" stroke="#000" stroke-width="1.3"/><path d="M58.4 61.90H62.5" stroke="#000" stroke-width="1.1"/><text x="54.30" y="65.20" font-size="10.0" text-anchor="end" fill="#222" stroke="#222" stroke-width="0.2" textLength="27.3" lengthAdjust="spacingAndGlyphs">1.00%</text><path d="M58.4 113.20H62.5" stroke="#000" stroke-width="1.1"/><text x="54.30" y="116.50" font-size="10.0" text-anchor="end" fill="#222" stroke="#222" stroke-width="0.2" textLength="27.3" lengthAdjust="spacingAndGlyphs">0.50%</text><path d="M58.4 164.50H62.5" stroke="#000" stroke-width="1.1"/><text x="54.30" y="167.80" font-size="10.0" text-anchor="end" fill="#222" stroke="#222" stroke-width="0.2" textLength="27.3" lengthAdjust="spacingAndGlyphs">0.00%</text><path d="M82.40 170.10V173.80" stroke="#000" stroke-width="1.1"/><text x="82.40" y="185.20" font-size="10.2" text-anchor="middle" fill="#1a1a1a" stroke="#1a1a1a" stroke-width="0.2">0</text><path d="M107.88 170.10V173.80" stroke="#000" stroke-width="1.1"/><text x="107.88" y="185.20" font-size="10.2" text-anchor="middle" fill="#1a1a1a" stroke="#1a1a1a" stroke-width="0.2">4</text><path d="M133.36 170.10V173.80" stroke="#000" stroke-width="1.1"/><text x="133.36" y="185.20" font-size="10.2" text-anchor="middle" fill="#1a1a1a" stroke="#1a1a1a" stroke-width="0.2">8</text><path d="M158.84 170.10V173.80" stroke="#000" stroke-width="1.1"/><text x="158.84" y="185.20" font-size="10.2" text-anchor="middle" fill="#1a1a1a" stroke="#1a1a1a" stroke-width="0.2">12</text><path d="M184.32 170.10V173.80" stroke="#000" stroke-width="1.1"/><text x="184.32" y="185.20" font-size="10.2" text-anchor="middle" fill="#1a1a1a" stroke="#1a1a1a" stroke-width="0.2">16</text><path d="M209.80 170.10V173.80" stroke="#000" stroke-width="1.1"/><text x="209.80" y="185.20" font-size="10.2" text-anchor="middle" fill="#1a1a1a" stroke="#1a1a1a" stroke-width="0.2">20</text><path d="M235.28 170.10V173.80" stroke="#000" stroke-width="1.1"/><text x="235.28" y="185.20" font-size="10.2" text-anchor="middle" fill="#1a1a1a" stroke="#1a1a1a" stroke-width="0.2">24</text><path d="M260.76 170.10V173.80" stroke="#000" stroke-width="1.1"/><text x="260.76" y="185.20" font-size="10.2" text-anchor="middle" fill="#1a1a1a" stroke="#1a1a1a" stroke-width="0.2">28</text><path d="M286.24 170.10V173.80" stroke="#000" stroke-width="1.1"/><text x="286.24" y="185.20" font-size="10.2" text-anchor="middle" fill="#1a1a1a" stroke="#1a1a1a" stroke-width="0.2">32</text><path d="M311.72 170.10V173.80" stroke="#000" stroke-width="1.1"/><text x="311.72" y="185.20" font-size="10.2" text-anchor="middle" fill="#1a1a1a" stroke="#1a1a1a" stroke-width="0.2">36</text><path d="M337.20 170.10V173.80" stroke="#000" stroke-width="1.1"/><text x="337.20" y="185.20" font-size="10.2" text-anchor="middle" fill="#1a1a1a" stroke="#1a1a1a" stroke-width="0.2">40</text><path d="M362.68 170.10V173.80" stroke="#000" stroke-width="1.1"/><text x="362.68" y="185.20" font-size="10.2" text-anchor="middle" fill="#1a1a1a" stroke="#1a1a1a" stroke-width="0.2">44</text><path d="M388.16 170.10V173.80" stroke="#000" stroke-width="1.1"/><text x="388.16" y="185.20" font-size="10.2" text-anchor="middle" fill="#1a1a1a" stroke="#1a1a1a" stroke-width="0.2">48</text><path d="M413.64 170.10V173.80" stroke="#000" stroke-width="1.1"/><text x="413.64" y="185.20" font-size="10.2" text-anchor="middle" fill="#1a1a1a" stroke="#1a1a1a" stroke-width="0.2">52</text><path d="M439.12 170.10V173.80" stroke="#000" stroke-width="1.1"/><text x="439.12" y="185.20" font-size="10.2" text-anchor="middle" fill="#1a1a1a" stroke="#1a1a1a" stroke-width="0.2">56</text><path d="M464.60 170.10V173.80" stroke="#000" stroke-width="1.1"/><text x="464.60" y="185.20" font-size="10.2" text-anchor="middle" fill="#1a1a1a" stroke="#1a1a1a" stroke-width="0.2">60</text><path d="M490.08 170.10V173.80" stroke="#000" stroke-width="1.1"/><text x="490.08" y="185.20" font-size="10.2" text-anchor="middle" fill="#1a1a1a" stroke="#1a1a1a" stroke-width="0.2">64</text><text x="286.20" y="201.50" font-size="11.5" text-anchor="middle" fill="#1a1a1a" stroke="#1a1a1a" stroke-width="0.4" textLength="46.1" lengthAdjust="spacingAndGlyphs">Time (days)</text><text x="62.60" y="222.70" font-size="11.7" text-anchor="start" fill="#1a1a1a" stroke="#1a1a1a" stroke-width="0.2" textLength="77.8" lengthAdjust="spacingAndGlyphs">Number at risk</text><rect x="62.5" y="228.2" width="447.10" height="47.10" fill="none" stroke="#000" stroke-width="1.3"/><path d="M58.4 241.00H62.5" stroke="#000" stroke-width="1.1"/><text x="54.00" y="244.20" font-size="9.2" text-anchor="end" fill="#2a629a" stroke="#2a629a" stroke-width="0.2" textLength="35" lengthAdjust="spacingAndGlyphs">Exposed</text><path d="M58.4 262.50H62.5" stroke="#000" stroke-width="1.1"/><text x="54.00" y="265.70" font-size="9.2" text-anchor="end" fill="#ca2a3c" stroke="#ca2a3c" stroke-width="0.2" textLength="46.3" lengthAdjust="spacingAndGlyphs">Unexposed</text><text x="81.80" y="243.95" font-size="9.8" text-anchor="middle" fill="#1a1a1a" stroke="#1a1a1a" stroke-width="0.2" textLength="20.0" lengthAdjust="spacingAndGlyphs">5107</text><text x="107.28" y="243.95" font-size="9.8" text-anchor="middle" fill="#1a1a1a" stroke="#1a1a1a" stroke-width="0.2" textLength="20.0" lengthAdjust="spacingAndGlyphs">5086</text><text x="132.76" y="243.95" font-size="9.8" text-anchor="middle" fill="#1a1a1a" stroke="#1a1a1a" stroke-width="0.2" textLength="20.0" lengthAdjust="spacingAndGlyphs">5013</text><text x="158.24" y="243.95" font-size="9.8" text-anchor="middle" fill="#1a1a1a" stroke="#1a1a1a" stroke-width="0.2" textLength="20.0" lengthAdjust="spacingAndGlyphs">4984</text><text x="183.72" y="243.95" font-size="9.8" text-anchor="middle" fill="#1a1a1a" stroke="#1a1a1a" stroke-width="0.2" textLength="20.0" lengthAdjust="spacingAndGlyphs">4912</text><text x="209.20" y="243.95" font-size="9.8" text-anchor="middle" fill="#1a1a1a" stroke="#1a1a1a" stroke-width="0.2" textLength="20.0" lengthAdjust="spacingAndGlyphs">4863</text><text x="234.68" y="243.95" font-size="9.8" text-anchor="middle" fill="#1a1a1a" stroke="#1a1a1a" stroke-width="0.2" textLength="20.0" lengthAdjust="spacingAndGlyphs">4813</text><text x="260.16" y="243.95" font-size="9.8" text-anchor="middle" fill="#1a1a1a" stroke="#1a1a1a" stroke-width="0.2" textLength="20.0" lengthAdjust="spacingAndGlyphs">4725</text><text x="285.64" y="243.95" font-size="9.8" text-anchor="middle" fill="#1a1a1a" stroke="#1a1a1a" stroke-width="0.2" textLength="20.0" lengthAdjust="spacingAndGlyphs">4671</text><text x="311.12" y="243.95" font-size="9.8" text-anchor="middle" fill="#1a1a1a" stroke="#1a1a1a" stroke-width="0.2" textLength="20.0" lengthAdjust="spacingAndGlyphs">4561</text><text x="336.60" y="243.95" font-size="9.8" text-anchor="middle" fill="#1a1a1a" stroke="#1a1a1a" stroke-width="0.2" textLength="20.0" lengthAdjust="spacingAndGlyphs">4477</text><text x="362.08" y="243.95" font-size="9.8" text-anchor="middle" fill="#1a1a1a" stroke="#1a1a1a" stroke-width="0.2" textLength="20.0" lengthAdjust="spacingAndGlyphs">4376</text><text x="387.56" y="243.95" font-size="9.8" text-anchor="middle" fill="#1a1a1a" stroke="#1a1a1a" stroke-width="0.2" textLength="20.0" lengthAdjust="spacingAndGlyphs">4270</text><text x="413.04" y="243.95" font-size="9.8" text-anchor="middle" fill="#1a1a1a" stroke="#1a1a1a" stroke-width="0.2" textLength="20.0" lengthAdjust="spacingAndGlyphs">4002</text><text x="438.52" y="243.95" font-size="9.8" text-anchor="middle" fill="#1a1a1a" stroke="#1a1a1a" stroke-width="0.2" textLength="20.0" lengthAdjust="spacingAndGlyphs">3051</text><text x="464.00" y="243.95" font-size="9.8" text-anchor="middle" fill="#1a1a1a" stroke="#1a1a1a" stroke-width="0.2" textLength="20.0" lengthAdjust="spacingAndGlyphs">2107</text><text x="489.48" y="243.95" font-size="9.8" text-anchor="middle" fill="#1a1a1a" stroke="#1a1a1a" stroke-width="0.2" textLength="15.0" lengthAdjust="spacingAndGlyphs">700</text><text x="81.80" y="265.45" font-size="9.8" text-anchor="middle" fill="#1a1a1a" stroke="#1a1a1a" stroke-width="0.2" textLength="20.0" lengthAdjust="spacingAndGlyphs">5107</text><text x="107.28" y="265.45" font-size="9.8" text-anchor="middle" fill="#1a1a1a" stroke="#1a1a1a" stroke-width="0.2" textLength="20.0" lengthAdjust="spacingAndGlyphs">5086</text><text x="132.76" y="265.45" font-size="9.8" text-anchor="middle" fill="#1a1a1a" stroke="#1a1a1a" stroke-width="0.2" textLength="20.0" lengthAdjust="spacingAndGlyphs">5013</text><text x="158.24" y="265.45" font-size="9.8" text-anchor="middle" fill="#1a1a1a" stroke="#1a1a1a" stroke-width="0.2" textLength="20.0" lengthAdjust="spacingAndGlyphs">4984</text><text x="183.72" y="265.45" font-size="9.8" text-anchor="middle" fill="#1a1a1a" stroke="#1a1a1a" stroke-width="0.2" textLength="20.0" lengthAdjust="spacingAndGlyphs">4912</text><text x="209.20" y="265.45" font-size="9.8" text-anchor="middle" fill="#1a1a1a" stroke="#1a1a1a" stroke-width="0.2" textLength="20.0" lengthAdjust="spacingAndGlyphs">4863</text><text x="234.68" y="265.45" font-size="9.8" text-anchor="middle" fill="#1a1a1a" stroke="#1a1a1a" stroke-width="0.2" textLength="20.0" lengthAdjust="spacingAndGlyphs">4813</text><text x="260.16" y="265.45" font-size="9.8" text-anchor="middle" fill="#1a1a1a" stroke="#1a1a1a" stroke-width="0.2" textLength="20.0" lengthAdjust="spacingAndGlyphs">4725</text><text x="285.64" y="265.45" font-size="9.8" text-anchor="middle" fill="#1a1a1a" stroke="#1a1a1a" stroke-width="0.2" textLength="20.0" lengthAdjust="spacingAndGlyphs">4672</text><text x="311.12" y="265.45" font-size="9.8" text-anchor="middle" fill="#1a1a1a" stroke="#1a1a1a" stroke-width="0.2" textLength="20.0" lengthAdjust="spacingAndGlyphs">4562</text><text x="336.60" y="265.45" font-size="9.8" text-anchor="middle" fill="#1a1a1a" stroke="#1a1a1a" stroke-width="0.2" textLength="20.0" lengthAdjust="spacingAndGlyphs">4479</text><text x="362.08" y="265.45" font-size="9.8" text-anchor="middle" fill="#1a1a1a" stroke="#1a1a1a" stroke-width="0.2" textLength="20.0" lengthAdjust="spacingAndGlyphs">4382</text><text x="387.56" y="265.45" font-size="9.8" text-anchor="middle" fill="#1a1a1a" stroke="#1a1a1a" stroke-width="0.2" textLength="20.0" lengthAdjust="spacingAndGlyphs">4275</text><text x="413.04" y="265.45" font-size="9.8" text-anchor="middle" fill="#1a1a1a" stroke="#1a1a1a" stroke-width="0.2" textLength="20.0" lengthAdjust="spacingAndGlyphs">4007</text><text x="438.52" y="265.45" font-size="9.8" text-anchor="middle" fill="#1a1a1a" stroke="#1a1a1a" stroke-width="0.2" textLength="20.0" lengthAdjust="spacingAndGlyphs">3059</text><text x="464.00" y="265.45" font-size="9.8" text-anchor="middle" fill="#1a1a1a" stroke="#1a1a1a" stroke-width="0.2" textLength="20.0" lengthAdjust="spacingAndGlyphs">2113</text><text x="489.48" y="265.45" font-size="9.8" text-anchor="middle" fill="#1a1a1a" stroke="#1a1a1a" stroke-width="0.2" textLength="15.0" lengthAdjust="spacingAndGlyphs">701</text><path d="M82.40 275.30V279.00" stroke="#000" stroke-width="1.1"/><text x="82.40" y="290.45" font-size="10.2" text-anchor="middle" fill="#1a1a1a" stroke="#1a1a1a" stroke-width="0.2">0</text><path d="M107.88 275.30V279.00" stroke="#000" stroke-width="1.1"/><text x="107.88" y="290.45" font-size="10.2" text-anchor="middle" fill="#1a1a1a" stroke="#1a1a1a" stroke-width="0.2">4</text><path d="M133.36 275.30V279.00" stroke="#000" stroke-width="1.1"/><text x="133.36" y="290.45" font-size="10.2" text-anchor="middle" fill="#1a1a1a" stroke="#1a1a1a" stroke-width="0.2">8</text><path d="M158.84 275.30V279.00" stroke="#000" stroke-width="1.1"/><text x="158.84" y="290.45" font-size="10.2" text-anchor="middle" fill="#1a1a1a" stroke="#1a1a1a" stroke-width="0.2">12</text><path d="M184.32 275.30V279.00" stroke="#000" stroke-width="1.1"/><text x="184.32" y="290.45" font-size="10.2" text-anchor="middle" fill="#1a1a1a" stroke="#1a1a1a" stroke-width="0.2">16</text><path d="M209.80 275.30V279.00" stroke="#000" stroke-width="1.1"/><text x="209.80" y="290.45" font-size="10.2" text-anchor="middle" fill="#1a1a1a" stroke="#1a1a1a" stroke-width="0.2">20</text><path d="M235.28 275.30V279.00" stroke="#000" stroke-width="1.1"/><text x="235.28" y="290.45" font-size="10.2" text-anchor="middle" fill="#1a1a1a" stroke="#1a1a1a" stroke-width="0.2">24</text><path d="M260.76 275.30V279.00" stroke="#000" stroke-width="1.1"/><text x="260.76" y="290.45" font-size="10.2" text-anchor="middle" fill="#1a1a1a" stroke="#1a1a1a" stroke-width="0.2">28</text><path d="M286.24 275.30V279.00" stroke="#000" stroke-width="1.1"/><text x="286.24" y="290.45" font-size="10.2" text-anchor="middle" fill="#1a1a1a" stroke="#1a1a1a" stroke-width="0.2">32</text><path d="M311.72 275.30V279.00" stroke="#000" stroke-width="1.1"/><text x="311.72" y="290.45" font-size="10.2" text-anchor="middle" fill="#1a1a1a" stroke="#1a1a1a" stroke-width="0.2">36</text><path d="M337.20 275.30V279.00" stroke="#000" stroke-width="1.1"/><text x="337.20" y="290.45" font-size="10.2" text-anchor="middle" fill="#1a1a1a" stroke="#1a1a1a" stroke-width="0.2">40</text><path d="M362.68 275.30V279.00" stroke="#000" stroke-width="1.1"/><text x="362.68" y="290.45" font-size="10.2" text-anchor="middle" fill="#1a1a1a" stroke="#1a1a1a" stroke-width="0.2">44</text><path d="M388.16 275.30V279.00" stroke="#000" stroke-width="1.1"/><text x="388.16" y="290.45" font-size="10.2" text-anchor="middle" fill="#1a1a1a" stroke="#1a1a1a" stroke-width="0.2">48</text><path d="M413.64 275.30V279.00" stroke="#000" stroke-width="1.1"/><text x="413.64" y="290.45" font-size="10.2" text-anchor="middle" fill="#1a1a1a" stroke="#1a1a1a" stroke-width="0.2">52</text><path d="M439.12 275.30V279.00" stroke="#000" stroke-width="1.1"/><text x="439.12" y="290.45" font-size="10.2" text-anchor="middle" fill="#1a1a1a" stroke="#1a1a1a" stroke-width="0.2">56</text><path d="M464.60 275.30V279.00" stroke="#000" stroke-width="1.1"/><text x="464.60" y="290.45" font-size="10.2" text-anchor="middle" fill="#1a1a1a" stroke="#1a1a1a" stroke-width="0.2">60</text><path d="M490.08 275.30V279.00" stroke="#000" stroke-width="1.1"/><text x="490.08" y="290.45" font-size="10.2" text-anchor="middle" fill="#1a1a1a" stroke="#1a1a1a" stroke-width="0.2">64</text><text x="286.20" y="306.90" font-size="11.5" text-anchor="middle" fill="#1a1a1a" stroke="#1a1a1a" stroke-width="0.4" textLength="46.1" lengthAdjust="spacingAndGlyphs">Time (days)</text><text x="62.60" y="327.30" font-size="11.7" text-anchor="start" fill="#1a1a1a" stroke="#1a1a1a" stroke-width="0.2" textLength="155" lengthAdjust="spacingAndGlyphs">Cumulative number of events</text><rect x="62.5" y="332.5" width="447.10" height="47.10" fill="none" stroke="#000" stroke-width="1.3"/><path d="M58.4 345.30H62.5" stroke="#000" stroke-width="1.1"/><text x="54.00" y="348.50" font-size="9.2" text-anchor="end" fill="#2a629a" stroke="#2a629a" stroke-width="0.2" textLength="35" lengthAdjust="spacingAndGlyphs">Exposed</text><path d="M58.4 366.80H62.5" stroke="#000" stroke-width="1.1"/><text x="54.00" y="370.00" font-size="9.2" text-anchor="end" fill="#ca2a3c" stroke="#ca2a3c" stroke-width="0.2" textLength="46.3" lengthAdjust="spacingAndGlyphs">Unexposed</text><text x="81.80" y="348.25" font-size="9.8" text-anchor="middle" fill="#1a1a1a" stroke="#1a1a1a" stroke-width="0.2" textLength="5.0" lengthAdjust="spacingAndGlyphs">0</text><text x="107.28" y="348.25" font-size="9.8" text-anchor="middle" fill="#1a1a1a" stroke="#1a1a1a" stroke-width="0.2" textLength="5.0" lengthAdjust="spacingAndGlyphs">0</text><text x="132.76" y="348.25" font-size="9.8" text-anchor="middle" fill="#1a1a1a" stroke="#1a1a1a" stroke-width="0.2" textLength="5.0" lengthAdjust="spacingAndGlyphs">0</text><text x="158.24" y="348.25" font-size="9.8" text-anchor="middle" fill="#1a1a1a" stroke="#1a1a1a" stroke-width="0.2" textLength="5.0" lengthAdjust="spacingAndGlyphs">0</text><text x="183.72" y="348.25" font-size="9.8" text-anchor="middle" fill="#1a1a1a" stroke="#1a1a1a" stroke-width="0.2" textLength="5.0" lengthAdjust="spacingAndGlyphs">0</text><text x="209.20" y="348.25" font-size="9.8" text-anchor="middle" fill="#1a1a1a" stroke="#1a1a1a" stroke-width="0.2" textLength="5.0" lengthAdjust="spacingAndGlyphs">0</text><text x="234.68" y="348.25" font-size="9.8" text-anchor="middle" fill="#1a1a1a" stroke="#1a1a1a" stroke-width="0.2" textLength="5.0" lengthAdjust="spacingAndGlyphs">0</text><text x="260.16" y="348.25" font-size="9.8" text-anchor="middle" fill="#1a1a1a" stroke="#1a1a1a" stroke-width="0.2" textLength="5.0" lengthAdjust="spacingAndGlyphs">1</text><text x="285.64" y="348.25" font-size="9.8" text-anchor="middle" fill="#1a1a1a" stroke="#1a1a1a" stroke-width="0.2" textLength="5.0" lengthAdjust="spacingAndGlyphs">3</text><text x="311.12" y="348.25" font-size="9.8" text-anchor="middle" fill="#1a1a1a" stroke="#1a1a1a" stroke-width="0.2" textLength="5.0" lengthAdjust="spacingAndGlyphs">5</text><text x="336.60" y="348.25" font-size="9.8" text-anchor="middle" fill="#1a1a1a" stroke="#1a1a1a" stroke-width="0.2" textLength="5.0" lengthAdjust="spacingAndGlyphs">5</text><text x="362.08" y="348.25" font-size="9.8" text-anchor="middle" fill="#1a1a1a" stroke="#1a1a1a" stroke-width="0.2" textLength="5.0" lengthAdjust="spacingAndGlyphs">9</text><text x="387.56" y="348.25" font-size="9.8" text-anchor="middle" fill="#1a1a1a" stroke="#1a1a1a" stroke-width="0.2" textLength="5.0" lengthAdjust="spacingAndGlyphs">9</text><text x="413.04" y="348.25" font-size="9.8" text-anchor="middle" fill="#1a1a1a" stroke="#1a1a1a" stroke-width="0.2" textLength="10.0" lengthAdjust="spacingAndGlyphs">13</text><text x="438.52" y="348.25" font-size="9.8" text-anchor="middle" fill="#1a1a1a" stroke="#1a1a1a" stroke-width="0.2" textLength="10.0" lengthAdjust="spacingAndGlyphs">15</text><text x="464.00" y="348.25" font-size="9.8" text-anchor="middle" fill="#1a1a1a" stroke="#1a1a1a" stroke-width="0.2" textLength="10.0" lengthAdjust="spacingAndGlyphs">17</text><text x="489.48" y="348.25" font-size="9.8" text-anchor="middle" fill="#1a1a1a" stroke="#1a1a1a" stroke-width="0.2" textLength="10.0" lengthAdjust="spacingAndGlyphs">21</text><text x="81.80" y="369.75" font-size="9.8" text-anchor="middle" fill="#1a1a1a" stroke="#1a1a1a" stroke-width="0.2" textLength="5.0" lengthAdjust="spacingAndGlyphs">0</text><text x="107.28" y="369.75" font-size="9.8" text-anchor="middle" fill="#1a1a1a" stroke="#1a1a1a" stroke-width="0.2" textLength="5.0" lengthAdjust="spacingAndGlyphs">0</text><text x="132.76" y="369.75" font-size="9.8" text-anchor="middle" fill="#1a1a1a" stroke="#1a1a1a" stroke-width="0.2" textLength="5.0" lengthAdjust="spacingAndGlyphs">0</text><text x="158.24" y="369.75" font-size="9.8" text-anchor="middle" fill="#1a1a1a" stroke="#1a1a1a" stroke-width="0.2" textLength="5.0" lengthAdjust="spacingAndGlyphs">0</text><text x="183.72" y="369.75" font-size="9.8" text-anchor="middle" fill="#1a1a1a" stroke="#1a1a1a" stroke-width="0.2" textLength="5.0" lengthAdjust="spacingAndGlyphs">0</text><text x="209.20" y="369.75" font-size="9.8" text-anchor="middle" fill="#1a1a1a" stroke="#1a1a1a" stroke-width="0.2" textLength="5.0" lengthAdjust="spacingAndGlyphs">0</text><text x="234.68" y="369.75" font-size="9.8" text-anchor="middle" fill="#1a1a1a" stroke="#1a1a1a" stroke-width="0.2" textLength="5.0" lengthAdjust="spacingAndGlyphs">0</text><text x="260.16" y="369.75" font-size="9.8" text-anchor="middle" fill="#1a1a1a" stroke="#1a1a1a" stroke-width="0.2" textLength="5.0" lengthAdjust="spacingAndGlyphs">0</text><text x="285.64" y="369.75" font-size="9.8" text-anchor="middle" fill="#1a1a1a" stroke="#1a1a1a" stroke-width="0.2" textLength="5.0" lengthAdjust="spacingAndGlyphs">0</text><text x="311.12" y="369.75" font-size="9.8" text-anchor="middle" fill="#1a1a1a" stroke="#1a1a1a" stroke-width="0.2" textLength="5.0" lengthAdjust="spacingAndGlyphs">1</text><text x="336.60" y="369.75" font-size="9.8" text-anchor="middle" fill="#1a1a1a" stroke="#1a1a1a" stroke-width="0.2" textLength="5.0" lengthAdjust="spacingAndGlyphs">1</text><text x="362.08" y="369.75" font-size="9.8" text-anchor="middle" fill="#1a1a1a" stroke="#1a1a1a" stroke-width="0.2" textLength="5.0" lengthAdjust="spacingAndGlyphs">1</text><text x="387.56" y="369.75" font-size="9.8" text-anchor="middle" fill="#1a1a1a" stroke="#1a1a1a" stroke-width="0.2" textLength="5.0" lengthAdjust="spacingAndGlyphs">1</text><text x="413.04" y="369.75" font-size="9.8" text-anchor="middle" fill="#1a1a1a" stroke="#1a1a1a" stroke-width="0.2" textLength="5.0" lengthAdjust="spacingAndGlyphs">2</text><text x="438.52" y="369.75" font-size="9.8" text-anchor="middle" fill="#1a1a1a" stroke="#1a1a1a" stroke-width="0.2" textLength="5.0" lengthAdjust="spacingAndGlyphs">3</text><text x="464.00" y="369.75" font-size="9.8" text-anchor="middle" fill="#1a1a1a" stroke="#1a1a1a" stroke-width="0.2" textLength="5.0" lengthAdjust="spacingAndGlyphs">3</text><text x="489.48" y="369.75" font-size="9.8" text-anchor="middle" fill="#1a1a1a" stroke="#1a1a1a" stroke-width="0.2" textLength="5.0" lengthAdjust="spacingAndGlyphs">3</text><path d="M82.40 379.60V383.30" stroke="#000" stroke-width="1.1"/><text x="82.40" y="394.75" font-size="10.2" text-anchor="middle" fill="#1a1a1a" stroke="#1a1a1a" stroke-width="0.2">0</text><path d="M107.88 379.60V383.30" stroke="#000" stroke-width="1.1"/><text x="107.88" y="394.75" font-size="10.2" text-anchor="middle" fill="#1a1a1a" stroke="#1a1a1a" stroke-width="0.2">4</text><path d="M133.36 379.60V383.30" stroke="#000" stroke-width="1.1"/><text x="133.36" y="394.75" font-size="10.2" text-anchor="middle" fill="#1a1a1a" stroke="#1a1a1a" stroke-width="0.2">8</text><path d="M158.84 379.60V383.30" stroke="#000" stroke-width="1.1"/><text x="158.84" y="394.75" font-size="10.2" text-anchor="middle" fill="#1a1a1a" stroke="#1a1a1a" stroke-width="0.2">12</text><path d="M184.32 379.60V383.30" stroke="#000" stroke-width="1.1"/><text x="184.32" y="394.75" font-size="10.2" text-anchor="middle" fill="#1a1a1a" stroke="#1a1a1a" stroke-width="0.2">16</text><path d="M209.80 379.60V383.30" stroke="#000" stroke-width="1.1"/><text x="209.80" y="394.75" font-size="10.2" text-anchor="middle" fill="#1a1a1a" stroke="#1a1a1a" stroke-width="0.2">20</text><path d="M235.28 379.60V383.30" stroke="#000" stroke-width="1.1"/><text x="235.28" y="394.75" font-size="10.2" text-anchor="middle" fill="#1a1a1a" stroke="#1a1a1a" stroke-width="0.2">24</text><path d="M260.76 379.60V383.30" stroke="#000" stroke-width="1.1"/><text x="260.76" y="394.75" font-size="10.2" text-anchor="middle" fill="#1a1a1a" stroke="#1a1a1a" stroke-width="0.2">28</text><path d="M286.24 379.60V383.30" stroke="#000" stroke-width="1.1"/><text x="286.24" y="394.75" font-size="10.2" text-anchor="middle" fill="#1a1a1a" stroke="#1a1a1a" stroke-width="0.2">32</text><path d="M311.72 379.60V383.30" stroke="#000" stroke-width="1.1"/><text x="311.72" y="394.75" font-size="10.2" text-anchor="middle" fill="#1a1a1a" stroke="#1a1a1a" stroke-width="0.2">36</text><path d="M337.20 379.60V383.30" stroke="#000" stroke-width="1.1"/><text x="337.20" y="394.75" font-size="10.2" text-anchor="middle" fill="#1a1a1a" stroke="#1a1a1a" stroke-width="0.2">40</text><path d="M362.68 379.60V383.30" stroke="#000" stroke-width="1.1"/><text x="362.68" y="394.75" font-size="10.2" text-anchor="middle" fill="#1a1a1a" stroke="#1a1a1a" stroke-width="0.2">44</text><path d="M388.16 379.60V383.30" stroke="#000" stroke-width="1.1"/><text x="388.16" y="394.75" font-size="10.2" text-anchor="middle" fill="#1a1a1a" stroke="#1a1a1a" stroke-width="0.2">48</text><path d="M413.64 379.60V383.30" stroke="#000" stroke-width="1.1"/><text x="413.64" y="394.75" font-size="10.2" text-anchor="middle" fill="#1a1a1a" stroke="#1a1a1a" stroke-width="0.2">52</text><path d="M439.12 379.60V383.30" stroke="#000" stroke-width="1.1"/><text x="439.12" y="394.75" font-size="10.2" text-anchor="middle" fill="#1a1a1a" stroke="#1a1a1a" stroke-width="0.2">56</text><path d="M464.60 379.60V383.30" stroke="#000" stroke-width="1.1"/><text x="464.60" y="394.75" font-size="10.2" text-anchor="middle" fill="#1a1a1a" stroke="#1a1a1a" stroke-width="0.2">60</text><path d="M490.08 379.60V383.30" stroke="#000" stroke-width="1.1"/><text x="490.08" y="394.75" font-size="10.2" text-anchor="middle" fill="#1a1a1a" stroke="#1a1a1a" stroke-width="0.2">64</text><text x="286.20" y="411.50" font-size="11.5" text-anchor="middle" fill="#1a1a1a" stroke="#1a1a1a" stroke-width="0.4" textLength="46.1" lengthAdjust="spacingAndGlyphs">Time (days)</text><rect x="222.1" y="422.1" width="13.4" height="13.3" fill="#4d47b1" fill-opacity="0.5"/><path d="M222.1 428.7H235.5" stroke="#2c3a92" stroke-width="2.0"/><path d="M228.7 425.8V431.6" stroke="#2c3a92" stroke-width="1.6"/><text x="239.60" y="431.60" font-size="9.0" text-anchor="start" fill="#1a1a1a" stroke="#1a1a1a" stroke-width="0.2" textLength="34.4" lengthAdjust="spacingAndGlyphs">Exposed</text><rect x="286.4" y="422.1" width="13.4" height="13.3" fill="#ff2c2c" fill-opacity="0.45"/><path d="M286.4 428.7H299.79999999999995" stroke="#b21d36" stroke-width="2.0"/><path d="M293.0 425.8V431.6" stroke="#e3222c" stroke-width="1.6"/><text x="303.90" y="431.60" font-size="9.0" text-anchor="start" fill="#1a1a1a" stroke="#1a1a1a" stroke-width="0.2" textLength="46.1" lengthAdjust="spacingAndGlyphs">Unexposed</text></g>
<rect x="0.75" y="0.75" width="518.5" height="883.5" fill="none" stroke="#000" stroke-width="1.5"/>
</svg>
</body></html>
